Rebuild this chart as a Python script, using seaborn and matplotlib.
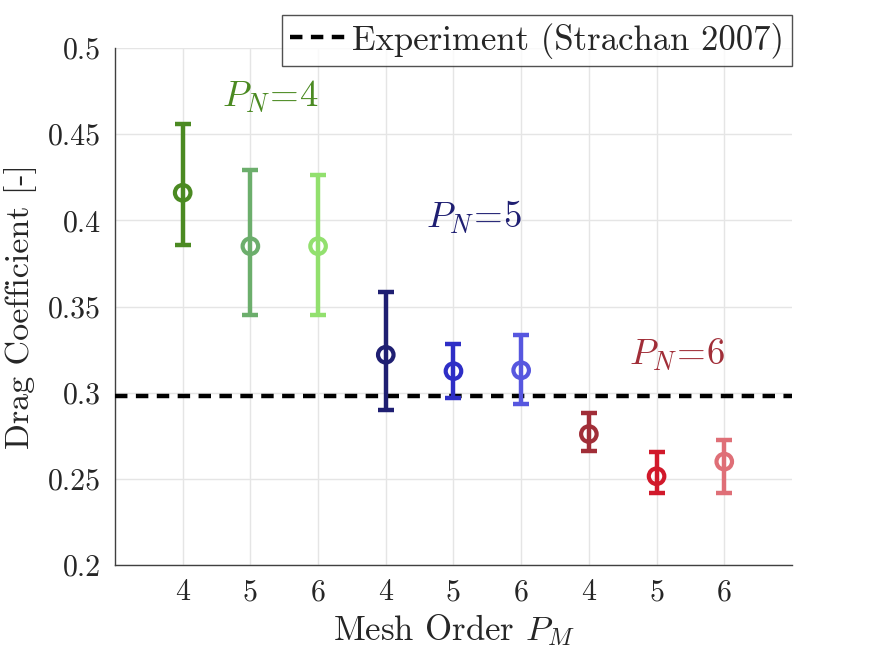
import numpy as np
import pandas as pd
import matplotlib
matplotlib.use("Agg")
import matplotlib.pyplot as plt
import seaborn as sns

# ---- data ----
positions = [1, 2, 3, 4, 5, 6, 7, 8, 9]
mesh_order = ["4", "5", "6", "4", "5", "6", "4", "5", "6"]
poly_order = [4, 4, 4, 5, 5, 5, 6, 6, 6]
drag_mean = [0.416, 0.385, 0.385, 0.322, 0.3125, 0.313, 0.276, 0.2515, 0.260]
drag_low = [0.3855, 0.345, 0.345, 0.290, 0.297, 0.2935, 0.266, 0.242, 0.242]
drag_high = [0.456, 0.429, 0.4265, 0.3585, 0.3285, 0.3335, 0.288, 0.2655, 0.2725]
colors = ["#4B8A22", "#6CAE6C", "#92E06E",
          "#1F1F72", "#2E2EC6", "#5757DF",
          "#A12E38", "#D1192B", "#DF6F77"]
experiment = 0.298
yticks = [0.2, 0.25, 0.3, 0.35, 0.4, 0.45, 0.5]
ytick_labels = ["0.2", "0.25", "0.3", "0.35", "0.4", "0.45", "0.5"]

df = pd.DataFrame({"pos": positions, "mean": drag_mean, "low": drag_low,
                   "high": drag_high, "label": [f"c{i}" for i in range(9)]})

sns.set_style("white")
plt.rcParams["font.family"] = ["cmr10"]
plt.rcParams["mathtext.fontset"] = "cm"
plt.rcParams["axes.formatter.use_mathtext"] = True

fig = plt.figure(figsize=(8.75, 6.56), dpi=100)
ax = fig.add_axes([0.1314, 0.1387, 0.7737, 0.7881])

ax.set_xlim(0, 10)
ax.set_ylim(0.2, 0.5)
ax.set_yticks(yticks)
ax.set_yticklabels(ytick_labels)
ax.set_xticks(positions)
ax.set_xticklabels(mesh_order)
ax.grid(True, color="#e5e5e5", linewidth=1.0, zorder=0)
ax.set_axisbelow(True)

for spine in ["top", "right"]:
    ax.spines[spine].set_visible(False)
for spine in ["left", "bottom"]:
    ax.spines[spine].set_color("#404040")
    ax.spines[spine].set_linewidth(1.0)
ax.tick_params(direction="in", length=6, width=1.0, color="#404040",
               labelsize=21.5, labelcolor="#262626", pad=10)

# experiment line
ax.axhline(experiment, color="black", linestyle=(0, (2.8, 1.9)),
           linewidth=3.2, zorder=3, label="Experiment (Strachan 2007)")

# error bars
for i in range(len(positions)):
    ax.errorbar(df["pos"][i], df["mean"][i],
                yerr=[[df["mean"][i] - df["low"][i]], [df["high"][i] - df["mean"][i]]],
                fmt="none", ecolor=colors[i], elinewidth=3.2, capsize=6,
                capthick=3.2, zorder=4)

# markers
sns.scatterplot(data=df, x="pos", y="mean", hue="label", palette=colors,
                s=125, marker="o", linewidth=3.0, legend=False, ax=ax, zorder=5)
coll = ax.collections[-1]
coll.set_edgecolors(colors)
coll.set_facecolors("none")

ax.set_xlabel(r"Mesh Order $P_M$", fontsize=25, color="#262626", labelpad=4)
ax.set_ylabel("Drag Coefficient [-]", fontsize=24.5, color="#262626", labelpad=8)

ax.text(2.3, 0.4715, r"$P_N\!=\!4$", color=colors[0], fontsize=26.5,
        ha="center", va="center")
ax.text(5.3, 0.402, r"$P_N\!=\!5$", color=colors[3], fontsize=26.5,
        ha="center", va="center")
ax.text(8.3, 0.322, r"$P_N\!=\!6$", color=colors[6], fontsize=26.5,
        ha="center", va="center")

leg = ax.legend(loc="upper right", bbox_to_anchor=(1.0, 1.064), fontsize=25,
                frameon=True, fancybox=False, handlelength=1.75,
                handletextpad=0.05, borderpad=0.22, borderaxespad=0.0)
leg.get_frame().set_edgecolor("#262626")
leg.get_frame().set_linewidth(1.0)

fig.savefig("out.png", dpi=100)
